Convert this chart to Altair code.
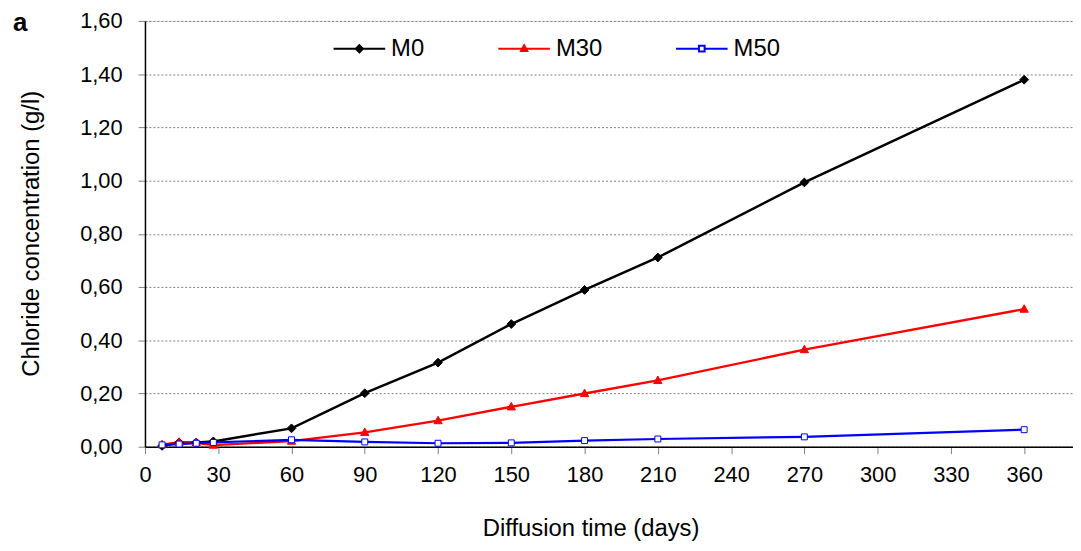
import altair as alt
import pandas as pd

days = [7, 14, 21, 28, 60, 90, 120, 150, 180, 210, 270, 360]
m0 = [0.003, 0.016, 0.016, 0.020, 0.069, 0.201, 0.316, 0.461, 0.589, 0.711, 0.993, 1.379]
m30 = [0.008, 0.017, 0.015, 0.006, 0.021, 0.054, 0.098, 0.150, 0.200, 0.249, 0.365, 0.517]
m50 = [0.007, 0.010, 0.013, 0.016, 0.026, 0.018, 0.013, 0.0145, 0.023, 0.029, 0.037, 0.064]

series_names = ["M0", "M30", "M50"]
series_colors = ["#000000", "#ff0000", "#0000ff"]
series_fills = ["#000000", "#ff0000", "#ffffff"]
# marker outlines, normalised to the symbol box
series_shapes = [
    "M0,-0.17L0.17,0L0,0.17L-0.17,0Z",
    "M0,-0.17L0.16,0.12L-0.16,0.12Z",
    "M-0.115,-0.115H0.115V0.115H-0.115Z",
]
# legend symbols: line segment with the marker in the middle
legend_shapes = [
    "M-1,0H1M0,-0.14L0.14,0L0,0.14L-0.14,0Z",
    "M-1,0H1M0,-0.13L0.12,0.09L-0.12,0.09Z",
    "M-1,0H-0.11M0.11,0H1M-0.11,-0.11H0.11V0.11H-0.11Z",
]
series_widths = [2.5, 2.25, 3]
series_pt_widths = [1, 1, 1.8]

x_ticks = list(range(0, 361, 30))
y_ticks = [0, 0.2, 0.4, 0.6, 0.8, 1.0, 1.2, 1.4, 1.6]

rows = []
for name, vals in zip(series_names, [m0, m30, m50]):
    for d, v in zip(days, vals):
        rows.append({"day": d, "value": v, "series": name})
df = pd.DataFrame(rows)

FONT = "Liberation Sans"
SYM = 2704

x_enc = alt.X(
    "day:Q",
    scale=alt.Scale(domain=[0, 380], nice=False, zero=True),
    axis=alt.Axis(
        values=x_ticks, title="Diffusion time (days)", grid=False,
        domainColor="#000000", domainWidth=1.5,
        tickColor="#808080", tickSize=7, tickWidth=1,
        labelFont=FONT, labelFontSize=22, labelColor="#000000", labelPadding=11,
        labelFlush=False, labelOverlap=False,
        titleFont=FONT, titleFontSize=24, titleFontWeight="normal", titleColor="#000000",
        titleX=449, titleY=89, titleBaseline="alphabetic",
    ),
)
y_enc = alt.Y(
    "value:Q",
    scale=alt.Scale(domain=[0, 1.6], nice=False),
    axis=alt.Axis(
        values=y_ticks, title="Chloride concentration (g/l)",
        labelExpr="replace(format(datum.value, '.2f'), '.', ',')",
        grid=True, gridColor="#808080", gridDash=[2, 2], gridWidth=1,
        domainColor="#000000", domainWidth=1.5,
        tickColor="#808080", tickSize=7, tickWidth=1,
        labelFont=FONT, labelFontSize=22, labelColor="#000000", labelPadding=16,
        labelFlush=False, labelOverlap=False,
        titleFont=FONT, titleFontSize=24, titleFontWeight="normal", titleColor="#000000",
        titleX=-107, titleY=214, titleAngle=-90, titleBaseline="alphabetic",
    ),
)

legend = alt.Legend(
    title=None, orient="none", legendX=189, legendY=1, direction="horizontal",
    symbolSize=SYM, symbolStrokeWidth=2, labelFont=FONT, labelFontSize=24,
    labelColor="#000000", labelOffset=5, columnPadding=70, padding=0,
)

base = alt.Chart(df)

lines = base.mark_line().encode(
    x=x_enc, y=y_enc,
    color=alt.Color("series:N", scale=alt.Scale(domain=series_names, range=series_colors), legend=None),
    strokeWidth=alt.StrokeWidth("series:N", scale=alt.Scale(domain=series_names, range=series_widths), legend=None),
)

points = base.mark_point(opacity=1, fillOpacity=1, size=SYM).encode(
    x=x_enc, y=y_enc,
    shape=alt.Shape("series:N", scale=alt.Scale(domain=series_names, range=series_shapes), legend=None),
    stroke=alt.Stroke("series:N", scale=alt.Scale(domain=series_names, range=series_colors), legend=None),
    fill=alt.Fill("series:N", scale=alt.Scale(domain=series_names, range=series_fills), legend=None),
    strokeWidth=alt.StrokeWidth("series:N", scale=alt.Scale(domain=series_names, range=series_pt_widths), legend=None),
)

# legend-only layer (no rows drawn): symbols combine the line and the marker
legend_layer = base.transform_filter("false").mark_point(opacity=1, fillOpacity=1, size=SYM).encode(
    x=alt.X("day:Q"), y=alt.Y("value:Q"),
    shape=alt.Shape("series:N", scale=alt.Scale(domain=series_names, range=legend_shapes), legend=legend),
    stroke=alt.Stroke("series:N", scale=alt.Scale(domain=series_names, range=series_colors), legend=legend),
    fill=alt.Fill("series:N", scale=alt.Scale(domain=series_names, range=series_fills), legend=legend),
)

chart = alt.layer(lines, points, legend_layer).resolve_scale(
    strokeWidth="independent", shape="independent", stroke="independent", fill="independent",
).properties(
    width=935, height=429,
    autosize=alt.AutoSizeParams(type="none"),
    padding={"left": 138, "top": 11, "right": 0, "bottom": 95},
    title=alt.TitleParams("a", anchor="start", orient="top", frame="group", offset=0,
                          dx=-133, dy=47, baseline="alphabetic", fontSize=26,
                          fontWeight="bold", font=FONT, color="#000000"),
).configure_view(stroke=None).configure(background="#ffffff")

chart.save("out.html", embed_options={"renderer": "svg", "actions": False})
